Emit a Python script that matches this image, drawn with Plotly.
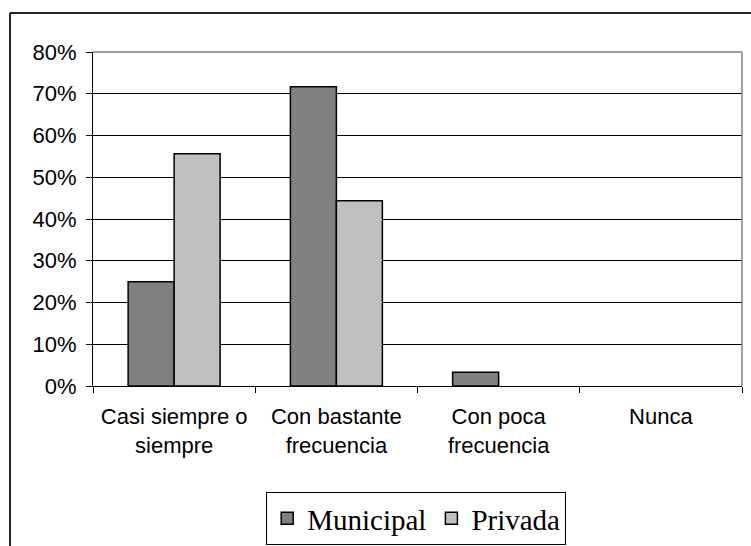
import plotly.graph_objects as go

categories = ["Casi siempre o<br>siempre", "Con bastante<br>frecuencia", "Con poca<br>frecuencia", "Nunca"]
municipal = [25.0, 71.7, 3.3, 0.0]
privada = [55.6, 44.4, 0.0, 0.0]
y_ticks = [0, 10, 20, 30, 40, 50, 60, 70, 80]
y_tick_labels = [f"{v}%" for v in y_ticks]

def outline_widths(values):
    return [1.5 if v > 0 else 0 for v in values]

fig = go.Figure()
fig.add_trace(go.Bar(name="Municipal", x=categories, y=municipal,
                     marker=dict(color="#808080",
                                 line=dict(color="#000000", width=outline_widths(municipal)))))
fig.add_trace(go.Bar(name="Privada", x=categories, y=privada,
                     marker=dict(color="#C0C0C0",
                                 line=dict(color="#000000", width=outline_widths(privada)))))

W, H = 751, 546
L, R, T, B = 93, 9, 52, 160
pw, ph = W - L - R, H - T - B

def px_x(x):
    return (x - L) / pw

def px_y(y):
    return (H - B - y) / ph

fig.update_layout(
    width=W, height=H,
    margin=dict(l=L, r=R, t=T, b=B, pad=0, autoexpand=False),
    paper_bgcolor="white", plot_bgcolor="white",
    barmode="group", bargap=0.433, bargroupgap=0,
    font=dict(family="Liberation Sans, Arial, sans-serif", size=22, color="black"),
    showlegend=True,
    legend=dict(orientation="h", x=0.498, xanchor="center", y=px_y(492), yanchor="top",
                font=dict(family="Liberation Serif, Times New Roman, serif", size=29, color="black"),
                bordercolor="#000000", borderwidth=1, bgcolor="white",
                itemwidth=30, tracegroupgap=0),
    xaxis=dict(showline=True, linecolor="#000000", linewidth=1, automargin=False,
               ticks="outside", ticklen=6, tickcolor="#000000", tickson="boundaries",
               showgrid=False, ticklabelstandoff=11,
               tickfont=dict(size=22)),
    yaxis=dict(range=[0, 80], tickvals=y_ticks, ticktext=y_tick_labels, automargin=False,
               showline=True, linecolor="#000000", linewidth=1,
               ticks="outside", ticklen=6, tickcolor="#000000",
               showgrid=True, gridcolor="#000000", gridwidth=1,
               zeroline=False, ticklabelstandoff=5,
               tickfont=dict(size=22)),
    shapes=[
        dict(type="line", xref="paper", yref="paper", x0=0, x1=1, y0=1, y1=1,
             line=dict(color="#808080", width=1.5), layer="above"),
        dict(type="line", xref="paper", yref="paper", x0=1, x1=1, y0=0, y1=1,
             line=dict(color="#808080", width=1.5), layer="above"),
        dict(type="line", xref="paper", yref="paper", x0=px_x(10), x1=px_x(760),
             y0=px_y(13), y1=px_y(13), line=dict(color="#222222", width=2)),
        dict(type="line", xref="paper", yref="paper", x0=px_x(10), x1=px_x(10),
             y0=px_y(13), y1=px_y(560), line=dict(color="#222222", width=2)),
    ],
)

fig.write_html("out.html", config={"displayModeBar": False},
               post_script="document.body.style.margin='0';document.body.style.overflow='hidden';")
